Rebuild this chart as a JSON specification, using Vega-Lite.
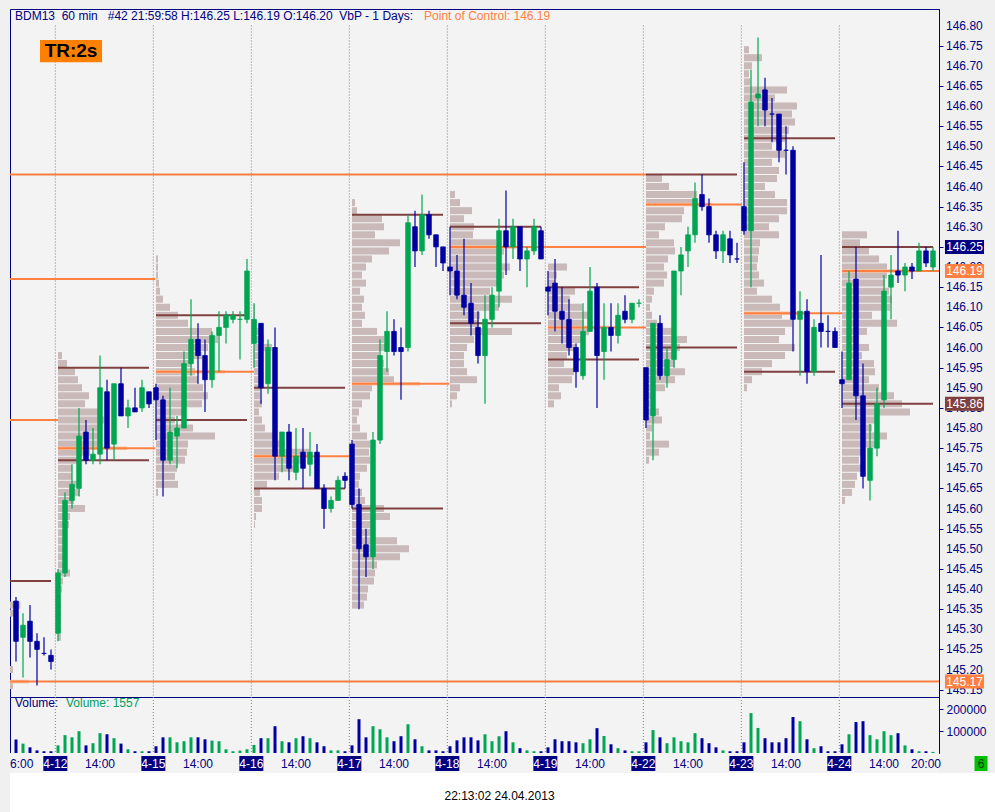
{
"$schema": "https://vega.github.io/schema/vega-lite/v6.json",
"background": "#f0f0f0",
"padding": {"left": 8, "top": 8, "right": 0, "bottom": 0},
"config": {"font": "Liberation Sans", "view": {"stroke": null}},
"datasets": {
"bars": [
{"k":0,"o":145.37,"h":145.38,"l":145.22,"c":145.27,"v":62000,"dir":"down"},
{"k":1,"o":145.28,"h":145.34,"l":145.18,"c":145.31,"v":43000,"dir":"up"},
{"k":2,"o":145.32,"h":145.36,"l":145.23,"c":145.27,"v":26000,"dir":"down"},
{"k":3,"o":145.27,"h":145.29,"l":145.16,"c":145.25,"v":12000,"dir":"down"},
{"k":4,"o":145.24,"h":145.28,"l":145.235,"c":145.24,"v":8000,"dir":"down"},
{"k":5,"o":145.235,"h":145.25,"l":145.2,"c":145.22,"v":8000,"dir":"down"},
{"k":6,"o":145.29,"h":145.45,"l":145.27,"c":145.44,"v":35000,"dir":"up"},
{"k":7,"o":145.44,"h":145.64,"l":145.43,"c":145.62,"v":82000,"dir":"up"},
{"k":8,"o":145.62,"h":145.71,"l":145.6,"c":145.66,"v":72000,"dir":"up"},
{"k":9,"o":145.65,"h":145.85,"l":145.63,"c":145.78,"v":100000,"dir":"up"},
{"k":10,"o":145.79,"h":145.82,"l":145.71,"c":145.72,"v":35000,"dir":"down"},
{"k":11,"o":145.72,"h":145.8,"l":145.71,"c":145.735,"v":45000,"dir":"up"},
{"k":12,"o":145.735,"h":145.98,"l":145.71,"c":145.9,"v":91000,"dir":"up"},
{"k":13,"o":145.89,"h":145.92,"l":145.72,"c":145.75,"v":86000,"dir":"down"},
{"k":14,"o":145.76,"h":145.91,"l":145.72,"c":145.91,"v":68000,"dir":"up"},
{"k":15,"o":145.91,"h":145.95,"l":145.83,"c":145.83,"v":43000,"dir":"down"},
{"k":16,"o":145.83,"h":145.87,"l":145.8,"c":145.85,"v":17000,"dir":"up"},
{"k":17,"o":145.85,"h":145.9,"l":145.84,"c":145.84,"v":8000,"dir":"down"},
{"k":18,"o":145.85,"h":145.92,"l":145.84,"c":145.9,"v":8000,"dir":"up"},
{"k":19,"o":145.89,"h":145.89,"l":145.85,"c":145.86,"v":8000,"dir":"down"},
{"k":20,"o":145.9,"h":145.91,"l":145.77,"c":145.87,"v":31000,"dir":"down"},
{"k":21,"o":145.87,"h":145.88,"l":145.63,"c":145.72,"v":72000,"dir":"down"},
{"k":22,"o":145.72,"h":145.9,"l":145.71,"c":145.79,"v":72000,"dir":"up"},
{"k":23,"o":145.78,"h":145.83,"l":145.7,"c":145.8,"v":49000,"dir":"up"},
{"k":24,"o":145.8,"h":145.99,"l":145.8,"c":145.96,"v":54000,"dir":"up"},
{"k":25,"o":145.96,"h":146.12,"l":145.93,"c":146.02,"v":72000,"dir":"up"},
{"k":26,"o":146.02,"h":146.06,"l":145.91,"c":145.98,"v":72000,"dir":"down"},
{"k":27,"o":145.98,"h":146.02,"l":145.84,"c":145.92,"v":63000,"dir":"down"},
{"k":28,"o":145.92,"h":146.04,"l":145.9,"c":146.03,"v":57000,"dir":"up"},
{"k":29,"o":146.03,"h":146.09,"l":145.94,"c":146.05,"v":54000,"dir":"up"},
{"k":30,"o":146.05,"h":146.09,"l":146.01,"c":146.08,"v":17000,"dir":"up"},
{"k":31,"o":146.07,"h":146.09,"l":146.06,"c":146.08,"v":8000,"dir":"up"},
{"k":32,"o":146.07,"h":146.09,"l":145.97,"c":146.07,"v":11000,"dir":"up"},
{"k":33,"o":146.07,"h":146.22,"l":146.06,"c":146.19,"v":17000,"dir":"up"},
{"k":34,"o":146.01,"h":146.11,"l":145.95,"c":146.07,"v":37000,"dir":"up"},
{"k":35,"o":146.06,"h":146.06,"l":145.86,"c":145.9,"v":68000,"dir":"down"},
{"k":36,"o":145.91,"h":146.02,"l":145.885,"c":146.0,"v":68000,"dir":"up"},
{"k":37,"o":146.0,"h":146.05,"l":145.67,"c":145.73,"v":123000,"dir":"down"},
{"k":38,"o":145.73,"h":145.79,"l":145.69,"c":145.79,"v":54000,"dir":"up"},
{"k":39,"o":145.79,"h":145.81,"l":145.67,"c":145.7,"v":49000,"dir":"down"},
{"k":40,"o":145.69,"h":145.8,"l":145.67,"c":145.73,"v":68000,"dir":"up"},
{"k":41,"o":145.74,"h":145.8,"l":145.65,"c":145.7,"v":77000,"dir":"down"},
{"k":42,"o":145.71,"h":145.79,"l":145.68,"c":145.74,"v":68000,"dir":"up"},
{"k":43,"o":145.74,"h":145.76,"l":145.65,"c":145.65,"v":49000,"dir":"down"},
{"k":44,"o":145.65,"h":145.66,"l":145.55,"c":145.6,"v":31000,"dir":"down"},
{"k":45,"o":145.6,"h":145.63,"l":145.59,"c":145.62,"v":12000,"dir":"up"},
{"k":46,"o":145.62,"h":145.68,"l":145.62,"c":145.67,"v":12000,"dir":"up"},
{"k":47,"o":145.68,"h":145.69,"l":145.65,"c":145.67,"v":8000,"dir":"down"},
{"k":48,"o":145.76,"h":145.77,"l":145.6,"c":145.61,"v":35000,"dir":"down"},
{"k":49,"o":145.61,"h":145.65,"l":145.35,"c":145.5,"v":155000,"dir":"down"},
{"k":50,"o":145.51,"h":145.55,"l":145.43,"c":145.48,"v":72000,"dir":"down"},
{"k":51,"o":145.48,"h":145.79,"l":145.45,"c":145.77,"v":123000,"dir":"up"},
{"k":52,"o":145.77,"h":146.02,"l":145.76,"c":145.98,"v":109000,"dir":"up"},
{"k":53,"o":145.99,"h":146.09,"l":145.94,"c":146.04,"v":72000,"dir":"up"},
{"k":54,"o":146.04,"h":146.07,"l":145.98,"c":145.99,"v":54000,"dir":"down"},
{"k":55,"o":146.0,"h":146.05,"l":145.87,"c":145.99,"v":77000,"dir":"down"},
{"k":56,"o":146.0,"h":146.33,"l":145.99,"c":146.31,"v":132000,"dir":"up"},
{"k":57,"o":146.3,"h":146.34,"l":146.2,"c":146.24,"v":63000,"dir":"down"},
{"k":58,"o":146.24,"h":146.38,"l":146.23,"c":146.33,"v":31000,"dir":"up"},
{"k":59,"o":146.33,"h":146.34,"l":146.27,"c":146.28,"v":12000,"dir":"down"},
{"k":60,"o":146.28,"h":146.28,"l":146.2,"c":146.25,"v":12000,"dir":"down"},
{"k":61,"o":146.25,"h":146.25,"l":146.19,"c":146.21,"v":8000,"dir":"down"},
{"k":62,"o":146.2,"h":146.3,"l":146.13,"c":146.19,"v":31000,"dir":"down"},
{"k":63,"o":146.19,"h":146.23,"l":146.12,"c":146.13,"v":58000,"dir":"down"},
{"k":64,"o":146.13,"h":146.27,"l":146.08,"c":146.1,"v":72000,"dir":"down"},
{"k":65,"o":146.11,"h":146.16,"l":146.03,"c":146.06,"v":72000,"dir":"down"},
{"k":66,"o":146.05,"h":146.09,"l":145.96,"c":145.98,"v":58000,"dir":"down"},
{"k":67,"o":145.98,"h":146.13,"l":145.86,"c":146.07,"v":86000,"dir":"up"},
{"k":68,"o":146.07,"h":146.15,"l":146.05,"c":146.13,"v":54000,"dir":"up"},
{"k":69,"o":146.14,"h":146.32,"l":146.1,"c":146.29,"v":77000,"dir":"up"},
{"k":70,"o":146.29,"h":146.39,"l":146.18,"c":146.25,"v":100000,"dir":"down"},
{"k":71,"o":146.25,"h":146.32,"l":146.22,"c":146.3,"v":49000,"dir":"up"},
{"k":72,"o":146.3,"h":146.3,"l":146.19,"c":146.22,"v":22000,"dir":"down"},
{"k":73,"o":146.22,"h":146.25,"l":146.15,"c":146.24,"v":12000,"dir":"up"},
{"k":74,"o":146.24,"h":146.32,"l":146.23,"c":146.3,"v":8000,"dir":"up"},
{"k":75,"o":146.29,"h":146.3,"l":146.22,"c":146.22,"v":8000,"dir":"down"},
{"k":76,"o":146.15,"h":146.19,"l":146.08,"c":146.14,"v":26000,"dir":"down"},
{"k":77,"o":146.16,"h":146.22,"l":146.04,"c":146.09,"v":63000,"dir":"down"},
{"k":78,"o":146.09,"h":146.15,"l":146.01,"c":146.07,"v":54000,"dir":"down"},
{"k":79,"o":146.07,"h":146.12,"l":145.98,"c":146.0,"v":54000,"dir":"down"},
{"k":80,"o":146.0,"h":146.01,"l":145.9,"c":145.94,"v":49000,"dir":"down"},
{"k":81,"o":145.93,"h":146.11,"l":145.92,"c":146.04,"v":45000,"dir":"up"},
{"k":82,"o":146.04,"h":146.2,"l":146.04,"c":146.14,"v":63000,"dir":"up"},
{"k":83,"o":146.15,"h":146.16,"l":145.85,"c":145.98,"v":114000,"dir":"down"},
{"k":84,"o":145.99,"h":146.11,"l":145.92,"c":146.05,"v":78000,"dir":"up"},
{"k":85,"o":146.05,"h":146.11,"l":145.99,"c":146.03,"v":40000,"dir":"down"},
{"k":86,"o":146.03,"h":146.11,"l":146.01,"c":146.08,"v":22000,"dir":"up"},
{"k":87,"o":146.09,"h":146.13,"l":146.06,"c":146.07,"v":12000,"dir":"down"},
{"k":88,"o":146.07,"h":146.11,"l":146.06,"c":146.11,"v":8000,"dir":"up"},
{"k":89,"o":146.11,"h":146.12,"l":146.1,"c":146.11,"v":8000,"dir":"up"},
{"k":90,"o":145.95,"h":145.95,"l":145.8,"c":145.82,"v":49000,"dir":"down"},
{"k":91,"o":145.83,"h":146.06,"l":145.72,"c":146.06,"v":105000,"dir":"up"},
{"k":92,"o":146.06,"h":146.08,"l":145.92,"c":145.93,"v":72000,"dir":"down"},
{"k":93,"o":145.93,"h":146.0,"l":145.9,"c":145.97,"v":45000,"dir":"up"},
{"k":94,"o":145.97,"h":146.19,"l":145.95,"c":146.19,"v":72000,"dir":"up"},
{"k":95,"o":146.19,"h":146.25,"l":146.13,"c":146.23,"v":54000,"dir":"up"},
{"k":96,"o":146.24,"h":146.3,"l":146.2,"c":146.28,"v":49000,"dir":"up"},
{"k":97,"o":146.28,"h":146.41,"l":146.26,"c":146.37,"v":91000,"dir":"up"},
{"k":98,"o":146.38,"h":146.43,"l":146.34,"c":146.35,"v":68000,"dir":"down"},
{"k":99,"o":146.35,"h":146.37,"l":146.26,"c":146.28,"v":45000,"dir":"down"},
{"k":100,"o":146.28,"h":146.29,"l":146.22,"c":146.24,"v":26000,"dir":"down"},
{"k":101,"o":146.24,"h":146.29,"l":146.21,"c":146.28,"v":12000,"dir":"up"},
{"k":102,"o":146.27,"h":146.29,"l":146.21,"c":146.23,"v":8000,"dir":"down"},
{"k":103,"o":146.22,"h":146.26,"l":146.21,"c":146.22,"v":8000,"dir":"down"},
{"k":104,"o":146.35,"h":146.46,"l":146.28,"c":146.29,"v":49000,"dir":"down"},
{"k":105,"o":146.29,"h":146.69,"l":146.15,"c":146.61,"v":183000,"dir":"up"},
{"k":106,"o":146.62,"h":146.77,"l":146.55,"c":146.63,"v":115000,"dir":"up"},
{"k":107,"o":146.64,"h":146.67,"l":146.55,"c":146.59,"v":68000,"dir":"down"},
{"k":108,"o":146.58,"h":146.62,"l":146.51,"c":146.58,"v":49000,"dir":"down"},
{"k":109,"o":146.58,"h":146.58,"l":146.46,"c":146.49,"v":49000,"dir":"down"},
{"k":110,"o":146.49,"h":146.55,"l":146.43,"c":146.49,"v":68000,"dir":"down"},
{"k":111,"o":146.49,"h":146.5,"l":145.99,"c":146.07,"v":165000,"dir":"down"},
{"k":112,"o":146.07,"h":146.14,"l":145.93,"c":146.09,"v":146000,"dir":"up"},
{"k":113,"o":146.09,"h":146.12,"l":145.91,"c":145.94,"v":63000,"dir":"down"},
{"k":114,"o":145.94,"h":146.07,"l":145.93,"c":146.05,"v":22000,"dir":"up"},
{"k":115,"o":146.06,"h":146.23,"l":146.0,"c":146.04,"v":31000,"dir":"down"},
{"k":116,"o":146.04,"h":146.08,"l":146.0,"c":146.04,"v":8000,"dir":"down"},
{"k":117,"o":146.04,"h":146.05,"l":146.0,"c":146.0,"v":8000,"dir":"down"},
{"k":118,"o":145.92,"h":145.99,"l":145.85,"c":145.91,"v":40000,"dir":"down"},
{"k":119,"o":145.92,"h":146.19,"l":145.92,"c":146.16,"v":86000,"dir":"up"},
{"k":120,"o":146.17,"h":146.25,"l":145.82,"c":145.88,"v":142000,"dir":"down"},
{"k":121,"o":145.88,"h":145.96,"l":145.65,"c":145.68,"v":146000,"dir":"down"},
{"k":122,"o":145.67,"h":145.81,"l":145.62,"c":145.75,"v":82000,"dir":"up"},
{"k":123,"o":145.75,"h":145.9,"l":145.73,"c":145.86,"v":63000,"dir":"up"},
{"k":124,"o":145.87,"h":146.18,"l":145.85,"c":146.14,"v":100000,"dir":"up"},
{"k":125,"o":146.15,"h":146.23,"l":146.07,"c":146.18,"v":82000,"dir":"up"},
{"k":126,"o":146.19,"h":146.29,"l":146.16,"c":146.18,"v":91000,"dir":"down"},
{"k":127,"o":146.18,"h":146.21,"l":146.14,"c":146.2,"v":35000,"dir":"up"},
{"k":128,"o":146.2,"h":146.21,"l":146.17,"c":146.19,"v":17000,"dir":"down"},
{"k":129,"o":146.19,"h":146.26,"l":146.19,"c":146.24,"v":8000,"dir":"up"},
{"k":130,"o":146.24,"h":146.25,"l":146.2,"c":146.21,"v":8000,"dir":"down"},
{"k":131,"o":146.2,"h":146.25,"l":146.19,"c":146.24,"v":5000,"dir":"up"}
],
"profile": [
{"p":145.36,"x0":-0.86,"x1":0.6},{"p":145.34,"x0":-0.86,"x1":-0.15},{"p":145.2,"x0":-0.86,"x1":-0.43},{"p":145.16,"x0":-0.86,"x1":-0.43},
{"p":145.98,"x0":6,"x1":6.57},{"p":145.96,"x0":6,"x1":7.29},{"p":145.94,"x0":6,"x1":8.43},{"p":145.92,"x0":6,"x1":8.86},{"p":145.9,"x0":6,"x1":9.43},{"p":145.88,"x0":6,"x1":10.43},{"p":145.86,"x0":6,"x1":9.86},{"p":145.84,"x0":6,"x1":11.71},{"p":145.82,"x0":6,"x1":12.57},{"p":145.8,"x0":6,"x1":12.29},{"p":145.78,"x0":6,"x1":12.29},{"p":145.76,"x0":6,"x1":11.86},{"p":145.74,"x0":6,"x1":10.57},{"p":145.72,"x0":6,"x1":9.0},{"p":145.7,"x0":6,"x1":8.0},{"p":145.68,"x0":6,"x1":8.0},{"p":145.66,"x0":6,"x1":8.71},{"p":145.64,"x0":6,"x1":9.14},{"p":145.62,"x0":6,"x1":8.29},{"p":145.6,"x0":6,"x1":9.86},{"p":145.58,"x0":6,"x1":7.71},{"p":145.56,"x0":6,"x1":7.57},{"p":145.54,"x0":6,"x1":7.29},{"p":145.52,"x0":6,"x1":7.29},{"p":145.5,"x0":6,"x1":7.0},{"p":145.48,"x0":6,"x1":6.86},{"p":145.46,"x0":6,"x1":7.0},{"p":145.44,"x0":6,"x1":7.71},{"p":145.42,"x0":6,"x1":6.71},{"p":145.4,"x0":6,"x1":6.57},{"p":145.38,"x0":6,"x1":6.43},{"p":145.36,"x0":6,"x1":6.43},{"p":145.34,"x0":6,"x1":6.43},{"p":145.32,"x0":6,"x1":6.43},{"p":145.3,"x0":6,"x1":6.43},{"p":145.28,"x0":6,"x1":6.43},
{"p":146.22,"x0":20,"x1":20.29},{"p":146.2,"x0":20,"x1":20.29},{"p":146.18,"x0":20,"x1":20.29},{"p":146.16,"x0":20,"x1":20.43},{"p":146.14,"x0":20,"x1":20.57},{"p":146.12,"x0":20,"x1":21.0},{"p":146.1,"x0":20,"x1":22.0},{"p":146.08,"x0":20,"x1":23.14},{"p":146.06,"x0":20,"x1":24.57},{"p":146.04,"x0":20,"x1":28.0},{"p":146.02,"x0":20,"x1":28.86},{"p":146.0,"x0":20,"x1":27.43},{"p":145.98,"x0":20,"x1":26.57},{"p":145.96,"x0":20,"x1":25.14},{"p":145.94,"x0":20,"x1":25.57},{"p":145.92,"x0":20,"x1":26.0},{"p":145.9,"x0":20,"x1":26.71},{"p":145.88,"x0":20,"x1":27.43},{"p":145.86,"x0":20,"x1":26.57},{"p":145.84,"x0":20,"x1":23.86},{"p":145.82,"x0":20,"x1":22.71},{"p":145.8,"x0":20,"x1":25.29},{"p":145.78,"x0":20,"x1":28.43},{"p":145.76,"x0":20,"x1":24.57},{"p":145.74,"x0":20,"x1":24.43},{"p":145.72,"x0":20,"x1":24.14},{"p":145.7,"x0":20,"x1":23.0},{"p":145.68,"x0":20,"x1":22.71},{"p":145.66,"x0":20,"x1":23.14},{"p":145.64,"x0":20,"x1":20.29},
{"p":146.1,"x0":34,"x1":34.14},{"p":146.08,"x0":34,"x1":34.14},{"p":146.06,"x0":34,"x1":34.43},{"p":146.04,"x0":34,"x1":34.71},{"p":146.02,"x0":34,"x1":35.43},{"p":146.0,"x0":34,"x1":36.57},{"p":145.98,"x0":34,"x1":35.14},{"p":145.96,"x0":34,"x1":34.71},{"p":145.94,"x0":34,"x1":34.71},{"p":145.92,"x0":34,"x1":34.71},{"p":145.9,"x0":34,"x1":34.86},{"p":145.88,"x0":34,"x1":34.86},{"p":145.86,"x0":34,"x1":35.14},{"p":145.84,"x0":34,"x1":34.71},{"p":145.82,"x0":34,"x1":35.14},{"p":145.8,"x0":34,"x1":35.57},{"p":145.78,"x0":34,"x1":36.86},{"p":145.76,"x0":34,"x1":38.43},{"p":145.74,"x0":34,"x1":41.86},{"p":145.72,"x0":34,"x1":41.29},{"p":145.7,"x0":34,"x1":39.86},{"p":145.68,"x0":34,"x1":37.57},{"p":145.66,"x0":34,"x1":35.86},{"p":145.64,"x0":34,"x1":34.86},{"p":145.62,"x0":34,"x1":35.14},{"p":145.6,"x0":34,"x1":35.14},{"p":145.58,"x0":34,"x1":34.29},{"p":145.56,"x0":34,"x1":34.14},
{"p":146.36,"x0":48,"x1":48.43},{"p":146.34,"x0":48,"x1":48.71},{"p":146.32,"x0":48,"x1":52.29},{"p":146.3,"x0":48,"x1":52.57},{"p":146.28,"x0":48,"x1":51.29},{"p":146.26,"x0":48,"x1":54.86},{"p":146.24,"x0":48,"x1":53.29},{"p":146.22,"x0":48,"x1":50.86},{"p":146.2,"x0":48,"x1":50.0},{"p":146.18,"x0":48,"x1":49.43},{"p":146.16,"x0":48,"x1":50.0},{"p":146.14,"x0":48,"x1":49.14},{"p":146.12,"x0":48,"x1":49.71},{"p":146.1,"x0":48,"x1":49.43},{"p":146.08,"x0":48,"x1":49.86},{"p":146.06,"x0":48,"x1":49.43},{"p":146.04,"x0":48,"x1":51.57},{"p":146.02,"x0":48,"x1":52.57},{"p":146.0,"x0":48,"x1":53.29},{"p":145.98,"x0":48,"x1":51.86},{"p":145.96,"x0":48,"x1":52.57},{"p":145.94,"x0":48,"x1":53.29},{"p":145.92,"x0":48,"x1":54.0},{"p":145.9,"x0":48,"x1":50.86},{"p":145.88,"x0":48,"x1":50.57},{"p":145.86,"x0":48,"x1":49.43},{"p":145.84,"x0":48,"x1":49.0},{"p":145.82,"x0":48,"x1":48.71},{"p":145.8,"x0":48,"x1":49.14},{"p":145.78,"x0":48,"x1":50.14},{"p":145.76,"x0":48,"x1":50.57},{"p":145.74,"x0":48,"x1":50.43},{"p":145.72,"x0":48,"x1":50.57},{"p":145.7,"x0":48,"x1":50.14},{"p":145.68,"x0":48,"x1":49.14},{"p":145.66,"x0":48,"x1":49.0},{"p":145.64,"x0":48,"x1":49.43},{"p":145.62,"x0":48,"x1":49.86},{"p":145.6,"x0":48,"x1":52.57},{"p":145.58,"x0":48,"x1":53.43},{"p":145.56,"x0":48,"x1":51.29},{"p":145.54,"x0":48,"x1":51.14},{"p":145.52,"x0":48,"x1":54.43},{"p":145.5,"x0":48,"x1":56.14},{"p":145.48,"x0":48,"x1":54.86},{"p":145.46,"x0":48,"x1":51.57},{"p":145.44,"x0":48,"x1":51.29},{"p":145.42,"x0":48,"x1":51.14},{"p":145.4,"x0":48,"x1":50.29},{"p":145.38,"x0":48,"x1":50.14},{"p":145.36,"x0":48,"x1":49.71},
{"p":146.38,"x0":62,"x1":62.71},{"p":146.36,"x0":62,"x1":63.43},{"p":146.34,"x0":62,"x1":65.14},{"p":146.32,"x0":62,"x1":64.0},{"p":146.3,"x0":62,"x1":65.43},{"p":146.28,"x0":62,"x1":65.29},{"p":146.26,"x0":62,"x1":68.57},{"p":146.24,"x0":62,"x1":69.71},{"p":146.22,"x0":62,"x1":69.14},{"p":146.2,"x0":62,"x1":70.57},{"p":146.18,"x0":62,"x1":69.71},{"p":146.16,"x0":62,"x1":68.71},{"p":146.14,"x0":62,"x1":67.71},{"p":146.12,"x0":62,"x1":70.86},{"p":146.1,"x0":62,"x1":69.0},{"p":146.08,"x0":62,"x1":66.29},{"p":146.06,"x0":62,"x1":66.14},{"p":146.04,"x0":62,"x1":70.86},{"p":146.02,"x0":62,"x1":65.43},{"p":146.0,"x0":62,"x1":64.43},{"p":145.98,"x0":62,"x1":64.0},{"p":145.96,"x0":62,"x1":64.0},{"p":145.94,"x0":62,"x1":64.43},{"p":145.92,"x0":62,"x1":65.86},{"p":145.9,"x0":62,"x1":63.43},{"p":145.88,"x0":62,"x1":63.0},{"p":145.86,"x0":62,"x1":62.29},
{"p":146.2,"x0":76,"x1":78.71},{"p":146.18,"x0":76,"x1":77.29},{"p":146.16,"x0":76,"x1":77.0},{"p":146.14,"x0":76,"x1":79.86},{"p":146.12,"x0":76,"x1":79.14},{"p":146.1,"x0":76,"x1":80.86},{"p":146.08,"x0":76,"x1":82.29},{"p":146.06,"x0":76,"x1":81.14},{"p":146.04,"x0":76,"x1":81.86},{"p":146.02,"x0":76,"x1":80.86},{"p":146.0,"x0":76,"x1":79.86},{"p":145.98,"x0":76,"x1":78.71},{"p":145.96,"x0":76,"x1":78.29},{"p":145.94,"x0":76,"x1":79.71},{"p":145.92,"x0":76,"x1":79.43},{"p":145.9,"x0":76,"x1":77.57},{"p":145.88,"x0":76,"x1":77.86},{"p":145.86,"x0":76,"x1":76.86},
{"p":146.42,"x0":90,"x1":92.29},{"p":146.4,"x0":90,"x1":93.29},{"p":146.38,"x0":90,"x1":97.29},{"p":146.36,"x0":90,"x1":97.14},{"p":146.34,"x0":90,"x1":95.43},{"p":146.32,"x0":90,"x1":95.14},{"p":146.3,"x0":90,"x1":92.71},{"p":146.28,"x0":90,"x1":91.86},{"p":146.26,"x0":90,"x1":94.0},{"p":146.24,"x0":90,"x1":94.14},{"p":146.22,"x0":90,"x1":93.14},{"p":146.2,"x0":90,"x1":92.57},{"p":146.18,"x0":90,"x1":93.0},{"p":146.16,"x0":90,"x1":92.57},{"p":146.14,"x0":90,"x1":91.14},{"p":146.12,"x0":90,"x1":90.86},{"p":146.1,"x0":90,"x1":90.57},{"p":146.08,"x0":90,"x1":90.86},{"p":146.06,"x0":90,"x1":91.57},{"p":146.04,"x0":90,"x1":93.71},{"p":146.02,"x0":90,"x1":95.86},{"p":146.0,"x0":90,"x1":94.86},{"p":145.98,"x0":90,"x1":94.14},{"p":145.96,"x0":90,"x1":94.14},{"p":145.94,"x0":90,"x1":95.57},{"p":145.92,"x0":90,"x1":94.14},{"p":145.9,"x0":90,"x1":92.71},{"p":145.88,"x0":90,"x1":91.14},{"p":145.86,"x0":90,"x1":90.57},{"p":145.84,"x0":90,"x1":91.86},{"p":145.82,"x0":90,"x1":92.29},{"p":145.8,"x0":90,"x1":90.86},{"p":145.78,"x0":90,"x1":90.57},{"p":145.76,"x0":90,"x1":93.29},{"p":145.74,"x0":90,"x1":91.86},{"p":145.72,"x0":90,"x1":90.43},
{"p":146.74,"x0":104,"x1":104.71},{"p":146.72,"x0":104,"x1":106.57},{"p":146.7,"x0":104,"x1":105.14},{"p":146.68,"x0":104,"x1":104.71},{"p":146.66,"x0":104,"x1":104.86},{"p":146.64,"x0":104,"x1":110.14},{"p":146.62,"x0":104,"x1":108.43},{"p":146.6,"x0":104,"x1":111.57},{"p":146.58,"x0":104,"x1":110.86},{"p":146.56,"x0":104,"x1":111.29},{"p":146.54,"x0":104,"x1":110.43},{"p":146.52,"x0":104,"x1":109.86},{"p":146.5,"x0":104,"x1":108.0},{"p":146.48,"x0":104,"x1":109.86},{"p":146.46,"x0":104,"x1":108.0},{"p":146.44,"x0":104,"x1":109.0},{"p":146.42,"x0":104,"x1":108.71},{"p":146.4,"x0":104,"x1":107.0},{"p":146.38,"x0":104,"x1":108.43},{"p":146.36,"x0":104,"x1":110.14},{"p":146.34,"x0":104,"x1":110.14},{"p":146.32,"x0":104,"x1":109.0},{"p":146.3,"x0":104,"x1":107.57},{"p":146.28,"x0":104,"x1":109.0},{"p":146.26,"x0":104,"x1":106.29},{"p":146.24,"x0":104,"x1":106.14},{"p":146.22,"x0":104,"x1":106.0},{"p":146.2,"x0":104,"x1":105.86},{"p":146.18,"x0":104,"x1":106.14},{"p":146.16,"x0":104,"x1":106.86},{"p":146.14,"x0":104,"x1":105.86},{"p":146.12,"x0":104,"x1":108.0},{"p":146.1,"x0":104,"x1":109.14},{"p":146.08,"x0":104,"x1":109.43},{"p":146.06,"x0":104,"x1":110.86},{"p":146.04,"x0":104,"x1":109.86},{"p":146.02,"x0":104,"x1":109.0},{"p":146.0,"x0":104,"x1":111.29},{"p":145.98,"x0":104,"x1":109.86},{"p":145.96,"x0":104,"x1":108.0},{"p":145.94,"x0":104,"x1":106.57},{"p":145.92,"x0":104,"x1":105.14},{"p":145.9,"x0":104,"x1":104.43},
{"p":146.28,"x0":118,"x1":121.57},{"p":146.26,"x0":118,"x1":120.57},{"p":146.24,"x0":118,"x1":121.86},{"p":146.22,"x0":118,"x1":123.29},{"p":146.2,"x0":118,"x1":124.43},{"p":146.18,"x0":118,"x1":124.43},{"p":146.16,"x0":118,"x1":124.14},{"p":146.14,"x0":118,"x1":124.71},{"p":146.12,"x0":118,"x1":125.14},{"p":146.1,"x0":118,"x1":124.86},{"p":146.08,"x0":118,"x1":122.29},{"p":146.06,"x0":118,"x1":125.86},{"p":146.04,"x0":118,"x1":121.57},{"p":146.02,"x0":118,"x1":120.43},{"p":146.0,"x0":118,"x1":121.86},{"p":145.98,"x0":118,"x1":120.86},{"p":145.96,"x0":118,"x1":122.57},{"p":145.94,"x0":118,"x1":122.71},{"p":145.92,"x0":118,"x1":121.86},{"p":145.9,"x0":118,"x1":123.29},{"p":145.88,"x0":118,"x1":125.43},{"p":145.86,"x0":118,"x1":126.57},{"p":145.84,"x0":118,"x1":127.71},{"p":145.82,"x0":118,"x1":123.29},{"p":145.8,"x0":118,"x1":122.29},{"p":145.78,"x0":118,"x1":124.43},{"p":145.76,"x0":118,"x1":123.29},{"p":145.74,"x0":118,"x1":121.14},{"p":145.72,"x0":118,"x1":120.43},{"p":145.7,"x0":118,"x1":120.86},{"p":145.68,"x0":118,"x1":120.14},{"p":145.66,"x0":118,"x1":119.86},{"p":145.64,"x0":118,"x1":119.43},{"p":145.62,"x0":118,"x1":118.43}
],
"pocrows": [
{"p":145.17,"x0":-0.86,"x1":1.85},{"p":145.75,"x0":6,"x1":15.86},{"p":145.94,"x0":20,"x1":29.86},{"p":145.73,"x0":34,"x1":42.29},{"p":145.91,"x0":48,"x1":57.71},{"p":146.25,"x0":62,"x1":71.43},{"p":146.05,"x0":76,"x1":84.71},{"p":146.355,"x0":90,"x1":99.43},{"p":146.085,"x0":104,"x1":112.71},{"p":146.19,"x0":118,"x1":128.0}
],
"poclines": [
{"p":146.43,"x0":-0.86,"x1":90},{"p":146.17,"x0":-0.86,"x1":19.9},{"p":145.82,"x0":-0.86,"x1":6},{"p":145.17,"x0":-0.86,"x1":131.86},{"p":145.75,"x0":6,"x1":19.9},{"p":145.94,"x0":20,"x1":34},{"p":145.73,"x0":34,"x1":47.6},{"p":145.91,"x0":48,"x1":61.9},{"p":146.25,"x0":62,"x1":90},{"p":146.05,"x0":76,"x1":90},{"p":146.355,"x0":90,"x1":103.7},{"p":146.085,"x0":104,"x1":118},{"p":146.19,"x0":118,"x1":131.86}
],
"valines": [
{"p":145.42,"x0":-0.86,"x1":5},{"p":145.95,"x0":6,"x1":19},{"p":145.72,"x0":6,"x1":19},{"p":146.08,"x0":20,"x1":33},{"p":145.82,"x0":20,"x1":33},{"p":145.9,"x0":34,"x1":47},{"p":145.65,"x0":34,"x1":47},{"p":146.33,"x0":48,"x1":61},{"p":145.6,"x0":48,"x1":61},{"p":146.3,"x0":62,"x1":75},{"p":146.06,"x0":62,"x1":75},{"p":146.15,"x0":76,"x1":89},{"p":145.97,"x0":76,"x1":89},{"p":146.43,"x0":90,"x1":103},{"p":146.0,"x0":90,"x1":103},{"p":146.52,"x0":104,"x1":117},{"p":145.94,"x0":104,"x1":117},{"p":146.25,"x0":118,"x1":131},{"p":145.86,"x0":118,"x1":131}
],
"markers": [
{"p":146.25,"lab":"146.25","kind":"hi"},{"p":146.19,"lab":"146.19","kind":"poc"},{"p":145.86,"lab":"145.86","kind":"va"},{"p":145.17,"lab":"145.17","kind":"poc"}
],
"ticks": [
{"t":145.15},{"t":145.2},{"t":145.25},{"t":145.3},{"t":145.35},{"t":145.4},{"t":145.45},{"t":145.5},{"t":145.55},{"t":145.6},{"t":145.65},{"t":145.7},{"t":145.75},{"t":145.8},{"t":145.85},{"t":145.9},{"t":145.95},{"t":146.0},{"t":146.05},{"t":146.1},{"t":146.15},{"t":146.2},{"t":146.25},{"t":146.3},{"t":146.35},{"t":146.4},{"t":146.45},{"t":146.5},{"t":146.55},{"t":146.6},{"t":146.65},{"t":146.7},{"t":146.75},{"t":146.8}
],
"days": [
{"day":"4-12","sep":5.62},{"day":"4-15","sep":19.62},{"day":"4-16","sep":33.62},{"day":"4-17","sep":47.62},{"day":"4-18","sep":61.62},{"day":"4-19","sep":75.62},{"day":"4-22","sep":89.62},{"day":"4-23","sep":103.62},{"day":"4-24","sep":117.62}
],
"hours": [
{"lab":"14:00","k":12},{"lab":"14:00","k":26},{"lab":"14:00","k":40},{"lab":"14:00","k":54},{"lab":"14:00","k":68},{"lab":"14:00","k":82},{"lab":"14:00","k":96},{"lab":"14:00","k":110},{"lab":"14:00","k":124},{"lab":"20:00","k":130}
]
},
"spacing": 0,
"bounds": "flush",
"vconcat": [
{
"width": 929, "height": 688,
"view": {"fill": "#f3f3f3", "stroke": "#000080"},
"layer": [
{"data": {"name": "profile"}, "mark": {"type": "bar", "size": 7, "color": "#c9b9b9"},
 "encoding": {"x": {"field": "x0", "type": "quantitative", "scale": {"domain": [-0.857, 131.857], "nice": false, "zero": false, "padding": 0}, "axis": null},
  "x2": {"field": "x1"},
  "y": {"field": "p", "type": "quantitative", "scale": {"domain": [145.1317, 146.841], "nice": false, "zero": false, "padding": 0},
   "axis": {"orient": "right", "title": null, "values": [145.15,145.2,145.25,145.3,145.35,145.4,145.45,145.5,145.55,145.6,145.65,145.7,145.75,145.8,145.85,145.9,145.95,146,146.05,146.1,146.15,146.2,146.25,146.3,146.35,146.4,146.45,146.5,146.55,146.6,146.65,146.7,146.75,146.8],
    "labels": false, "tickColor": "#000080", "tickSize": 4, "domainColor": "#000080", "grid": false, "ticks": true, "domain": true}}}},
{"data": {"name": "days"}, "mark": {"type": "rule", "color": "#808080", "strokeDash": [1, 2], "strokeWidth": 1},
 "encoding": {"x": {"field": "sep", "type": "quantitative", "axis": null},
  "y": {"datum": 146.8, "type": "quantitative"}, "y2": {"datum": 145.1317}}},
{"data": {"name": "pocrows"}, "mark": {"type": "bar", "size": 3.5, "color": "#f9c3a3"},
 "encoding": {"x": {"field": "x0", "type": "quantitative", "axis": null}, "x2": {"field": "x1"},
  "y": {"field": "p", "type": "quantitative"}}},
{"data": {"name": "poclines"}, "mark": {"type": "rule", "color": "#ff8040", "strokeWidth": 2},
 "encoding": {"x": {"field": "x0", "type": "quantitative", "axis": null}, "x2": {"field": "x1"},
  "y": {"field": "p", "type": "quantitative"}}},
{"data": {"name": "valines"}, "mark": {"type": "rule", "color": "#804040", "strokeWidth": 2},
 "encoding": {"x": {"field": "x0", "type": "quantitative", "axis": null}, "x2": {"field": "x1"},
  "y": {"field": "p", "type": "quantitative"}}},
{"data": {"name": "bars"}, "mark": {"type": "rule", "strokeWidth": 1.2},
 "encoding": {"x": {"field": "k", "type": "quantitative", "axis": null},
  "y": {"field": "l", "type": "quantitative"}, "y2": {"field": "h"},
  "color": {"field": "dir", "type": "nominal", "scale": {"domain": ["up", "down"], "range": ["#00a651", "#0000a0"]}, "legend": null}}},
{"data": {"name": "bars"}, "mark": {"type": "bar", "size": 4.6, "strokeWidth": 0.8},
 "encoding": {"x": {"field": "k", "type": "quantitative", "axis": null},
  "y": {"field": "o", "type": "quantitative"}, "y2": {"field": "c"},
  "color": {"field": "dir", "type": "nominal", "scale": {"domain": ["up", "down"], "range": ["#00a651", "#0000a0"]}, "legend": null},
  "stroke": {"field": "dir", "type": "nominal", "scale": {"domain": ["up", "down"], "range": ["#00a651", "#0000a0"]}, "legend": null}}},
{"data": {"values": [{}]}, "mark": {"type": "text", "text": "BDM13\u00a0 60 min\u00a0\u00a0 #42 21:59:58 H:146.25 L:146.19 O:146.20\u00a0 VbP - 1 Days:", "align": "left", "baseline": "middle", "fontSize": 12, "color": "#000080"},
 "encoding": {"x": {"datum": -0.14, "type": "quantitative", "axis": null}, "y": {"datum": 146.824, "type": "quantitative"}}},
{"data": {"values": [{}]}, "mark": {"type": "text", "text": "Point of Control: 146.19", "align": "left", "baseline": "middle", "fontSize": 12, "color": "#ff8040"},
 "encoding": {"x": {"datum": 58.3, "type": "quantitative", "axis": null}, "y": {"datum": 146.824, "type": "quantitative"}}},
{"data": {"values": [{}]}, "mark": {"type": "rect", "color": "#ff8000"},
 "encoding": {"x": {"datum": 3.43, "type": "quantitative", "axis": null}, "x2": {"datum": 12.29},
  "y": {"datum": 146.764, "type": "quantitative"}, "y2": {"datum": 146.709}}},
{"data": {"values": [{}]}, "mark": {"type": "text", "text": "TR:2s", "align": "center", "baseline": "middle", "fontSize": 19, "fontWeight": "bold", "color": "#000000"},
 "encoding": {"x": {"datum": 7.86, "type": "quantitative", "axis": null}, "y": {"datum": 146.736, "type": "quantitative"}}},
{"data": {"name": "ticks"}, "mark": {"type": "text", "align": "left", "baseline": "middle", "fontSize": 12, "color": "#000080"},
 "encoding": {"x": {"datum": 132.86, "type": "quantitative", "axis": null},
  "y": {"field": "t", "type": "quantitative"}, "text": {"field": "t", "type": "quantitative", "format": ".2f"}}},
{"data": {"name": "markers"}, "mark": {"type": "bar", "size": 14},
 "encoding": {"x": {"datum": 132.71, "type": "quantitative", "axis": null}, "x2": {"datum": 138.29},
  "y": {"field": "p", "type": "quantitative"},
  "fill": {"field": "kind", "type": "nominal", "scale": {"domain": ["hi", "poc", "va"], "range": ["#000080", "#ff8040", "#804040"]}, "legend": null}}},
{"data": {"name": "markers"}, "mark": {"type": "text", "align": "center", "baseline": "middle", "fontSize": 12, "color": "#ffffff"},
 "encoding": {"x": {"datum": 135.5, "type": "quantitative", "axis": null},
  "y": {"field": "p", "type": "quantitative"}, "text": {"field": "lab"}}}
]
},
{
"width": 929, "height": 56,
"view": {"fill": "#f3f3f3", "stroke": "#000080"},
"layer": [
{"data": {"name": "bars"}, "mark": {"type": "bar", "size": 3},
 "encoding": {"x": {"field": "k", "type": "quantitative", "scale": {"domain": [-0.857, 131.857], "nice": false, "zero": false, "padding": 0}, "axis": null},
  "y": {"field": "v", "type": "quantitative", "stack": null, "scale": {"domain": [0, 257000], "nice": false, "padding": 0},
   "axis": {"orient": "right", "title": null, "values": [100000, 200000], "format": "d", "labelColor": "#000080", "labelFontSize": 12, "labelFont": "Liberation Sans", "tickColor": "#000080", "tickSize": 4, "domainColor": "#000080", "labelPadding": 3, "grid": false, "labelFlush": false, "labels": true, "ticks": true, "domain": true}},
  "color": {"field": "dir", "type": "nominal", "scale": {"domain": ["up", "down"], "range": ["#00a651", "#0000a0"]}, "legend": null}}},
{"data": {"name": "days"}, "mark": {"type": "rule", "color": "#808080", "strokeDash": [1, 2], "strokeWidth": 1},
 "encoding": {"x": {"field": "sep", "type": "quantitative", "axis": null}}},
{"data": {"values": [{}]}, "mark": {"type": "text", "text": "Volume:", "align": "left", "baseline": "middle", "fontSize": 12, "color": "#000080"},
 "encoding": {"x": {"datum": -0.14, "type": "quantitative", "axis": null}, "y": {"datum": 228000, "type": "quantitative"}}},
{"data": {"values": [{}]}, "mark": {"type": "text", "text": "Volume: 1557", "align": "left", "baseline": "middle", "fontSize": 12, "color": "#00a060"},
 "encoding": {"x": {"datum": 7.14, "type": "quantitative", "axis": null}, "y": {"datum": 228000, "type": "quantitative"}}}
]
},
{
"width": 929, "height": 20,
"view": {"fill": "#f3f3f3", "stroke": null},
"layer": [
{"data": {"name": "days"}, "mark": {"type": "bar", "size": 24, "color": "#000080"},
 "encoding": {"x": {"field": "sep", "type": "quantitative", "scale": {"domain": [-0.857, 131.857], "nice": false, "zero": false, "padding": 0}, "axis": null},
  "y": {"datum": 2, "type": "quantitative", "scale": {"domain": [0, 20], "nice": false, "zero": false, "padding": 0}, "axis": null}, "y2": {"datum": 17}}},
{"data": {"name": "days"}, "mark": {"type": "text", "align": "center", "baseline": "middle", "fontSize": 12, "color": "#ffffff"},
 "encoding": {"x": {"field": "sep", "type": "quantitative", "axis": null}, "y": {"datum": 9.5, "type": "quantitative", "axis": null}, "text": {"field": "day"}}},
{"data": {"name": "hours"}, "mark": {"type": "text", "align": "center", "baseline": "middle", "fontSize": 12, "color": "#000080"},
 "encoding": {"x": {"field": "k", "type": "quantitative", "axis": null}, "y": {"datum": 9.5, "type": "quantitative", "axis": null}, "text": {"field": "lab"}}},
{"data": {"values": [{}]}, "mark": {"type": "text", "text": "6:00", "align": "left", "baseline": "middle", "fontSize": 12, "color": "#000080"},
 "encoding": {"x": {"datum": -0.857, "type": "quantitative", "axis": null}, "y": {"datum": 9.5, "type": "quantitative", "axis": null}}},
{"data": {"values": [{}]}, "mark": {"type": "bar", "size": 13, "color": "#00c000"},
 "encoding": {"x": {"datum": 137.86, "type": "quantitative", "axis": null}, "y": {"datum": 2, "type": "quantitative", "axis": null}, "y2": {"datum": 17}}},
{"data": {"values": [{}]}, "mark": {"type": "text", "text": "6", "align": "center", "baseline": "middle", "fontSize": 12, "color": "#003300"},
 "encoding": {"x": {"datum": 137.86, "type": "quantitative", "axis": null}, "y": {"datum": 9.5, "type": "quantitative", "axis": null}}}
]
},
{
"width": 987, "height": 40,
"view": {"fill": "#ffffff", "stroke": null},
"data": {"values": [{}]},
"mark": {"type": "text", "text": "22:13:02 24.04.2013", "fontSize": 12, "color": "#000000", "dx": -4, "dy": 3},
"encoding": {}
}
]
}
